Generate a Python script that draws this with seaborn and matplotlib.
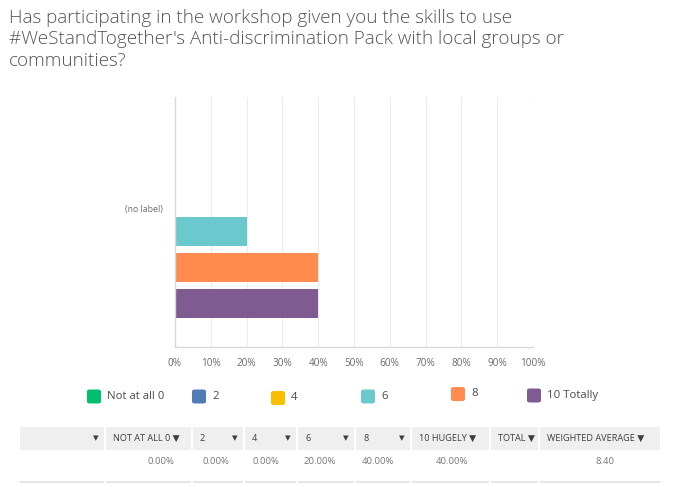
import numpy as np
import pandas as pd
import matplotlib
matplotlib.use("Agg")
import matplotlib.pyplot as plt
from matplotlib.patches import FancyBboxPatch, Rectangle
import seaborn as sns

# ---------------- data ----------------
title_lines = [
    "Has participating in the workshop given you the skills to use",
    "#WeStandTogether's Anti-discrimination Pack with local groups or",
    "communities?",
]
row_label = "(no label)"
choices = ["Not at all 0", "2", "4", "6", "8", "10 Totally"]
choice_weights = [0, 2, 4, 6, 8, 10]
percents = [0.0, 0.0, 0.0, 20.0, 40.0, 40.0]
colors = ["#00bf6f", "#507cb6", "#f9be00", "#6bc8cd", "#ff8b4f", "#7f5b91"]
x_ticks = [0, 10, 20, 30, 40, 50, 60, 70, 80, 90, 100]
x_tick_labels = [f"{t}%" for t in x_ticks]
table_headers = ["", "NOT AT ALL 0", "2", "4", "6", "8", "10 HUGELY", "TOTAL", "WEIGHTED AVERAGE"]

weighted_avg = sum(w * p for w, p in zip(choice_weights, percents)) / sum(percents)
table_values = [""] + [f"{p:.2f}%" for p in percents] + ["", f"{weighted_avg:.2f}"]

df = pd.DataFrame({"row": [row_label] * len(choices), "choice": choices, "pct": percents})

# ---------------- figure ----------------
W, H = 680, 487
fig = plt.figure(figsize=(W / 100, H / 100), dpi=100)
sns.set_style("white")
plt.rcParams["font.family"] = ["Open Sans", "DejaVu Sans"]

def fx(px):
    return px / W

def fy(py):
    return 1 - py / H

# title
for i, line in enumerate(title_lines):
    fig.text(fx(9), fy(18 + 21.5 * i), line, fontsize=13.6, color="#545454",
             ha="left", va="center", fontweight="light",
             family=["Open Sans", "DejaVu Sans"])

# chart axes
ax = fig.add_axes([fx(175), fy(347), fx(533) - fx(175), fy(97) - fy(347)])
sns.barplot(data=df, y="row", x="pct", hue="choice", hue_order=choices,
            palette=colors, saturation=1, orient="h", width=0.8, gap=0.194,
            linewidth=0, legend=False, ax=ax)
ax.set_xlim(0, 100)
ax.set_ylim(0.4944, -0.4315)
ax.set_xticks(x_ticks)
ax.set_xticklabels(x_tick_labels, fontsize=7.2, color="#6b6b6b")
ax.set_yticks([0])
ax.set_yticklabels([row_label], fontsize=6.3, color="#6b6b6b")
ax.tick_params(axis="both", length=0, pad=8)
ax.tick_params(axis="y", pad=9)
for lbl in ax.get_yticklabels():
    lbl.set_va("bottom")
ax.set_xlabel("")
ax.set_ylabel("")
ax.set_axisbelow(True)
ax.grid(axis="x", color="#ececec", linewidth=0.8)
for side in ["top", "right"]:
    ax.spines[side].set_visible(False)
ax.spines["left"].set_color("#d9d9d9")
ax.spines["bottom"].set_color("#d9d9d9")
ax.spines["left"].set_linewidth(1.0)
ax.spines["bottom"].set_linewidth(1.0)

# legend (manual, SurveyMonkey style)
leg_sq_x = [87, 192, 271, 361, 451, 527]
leg_sq_y = [396.5, 396.5, 398, 396.5, 394, 395.5]
for name, col, sx, sy in zip(choices, colors, leg_sq_x, leg_sq_y):
    s = 14
    p = FancyBboxPatch((fx(sx), fy(sy + s / 2)), fx(s), fy(0) - fy(s),
                       boxstyle="round,pad=0,rounding_size=0.004",
                       transform=fig.transFigure, facecolor=col, edgecolor="none")
    fig.patches.append(p)
    fig.text(fx(sx + 20), fy(sy), name, fontsize=8.2, color="#4a4a4a",
             ha="left", va="center")

# table
col_edges = [20, 105, 192, 244, 297, 355, 411, 490, 539, 660]
hdr_top, hdr_bot = 427, 450
fig.patches.append(Rectangle((fx(20), fy(hdr_bot)), fx(660) - fx(20), fy(hdr_top) - fy(hdr_bot),
                             transform=fig.transFigure, facecolor="#efefef", edgecolor="none"))
fig.patches.append(Rectangle((fx(20), fy(482.5)), fx(660) - fx(20), fy(481) - fy(482.5),
                             transform=fig.transFigure, facecolor="#e6e6e6", edgecolor="none"))
for e in col_edges[1:-1]:
    fig.patches.append(Rectangle((fx(e - 1), fy(hdr_bot)), fx(2), fy(hdr_top) - fy(hdr_bot),
                                 transform=fig.transFigure, facecolor="white", edgecolor="none"))
    fig.patches.append(Rectangle((fx(e - 1), fy(483)), fx(2), fy(480) - fy(483),
                                 transform=fig.transFigure, facecolor="white", edgecolor="none"))

hy = 438.5
for i, h in enumerate(table_headers):
    left, right = col_edges[i], col_edges[i + 1]
    if len(h) > 3:
        fig.text(fx(left + 8), fy(hy), h + " \u25BC", fontsize=6.6, color="#3d3d3d",
                 ha="left", va="center", family=["Open Sans", "DejaVu Sans"])
    else:
        if h:
            fig.text(fx(left + 8), fy(hy), h, fontsize=6.6, color="#3d3d3d",
                     ha="left", va="center")
        fig.text(fx(right - 9), fy(hy), "\u25BC", fontsize=5.2, color="#3d3d3d",
                 ha="center", va="center", family=["DejaVu Sans"])

val_centers = [0, 161, 216, 266, 320, 378, 452, 514, 605]
for v, cx in zip(table_values, val_centers):
    if v:
        fig.text(fx(cx), fy(461.5), v, fontsize=6.8, color="#777777",
                 ha="center", va="center")

fig.savefig("out.png", dpi=100)
